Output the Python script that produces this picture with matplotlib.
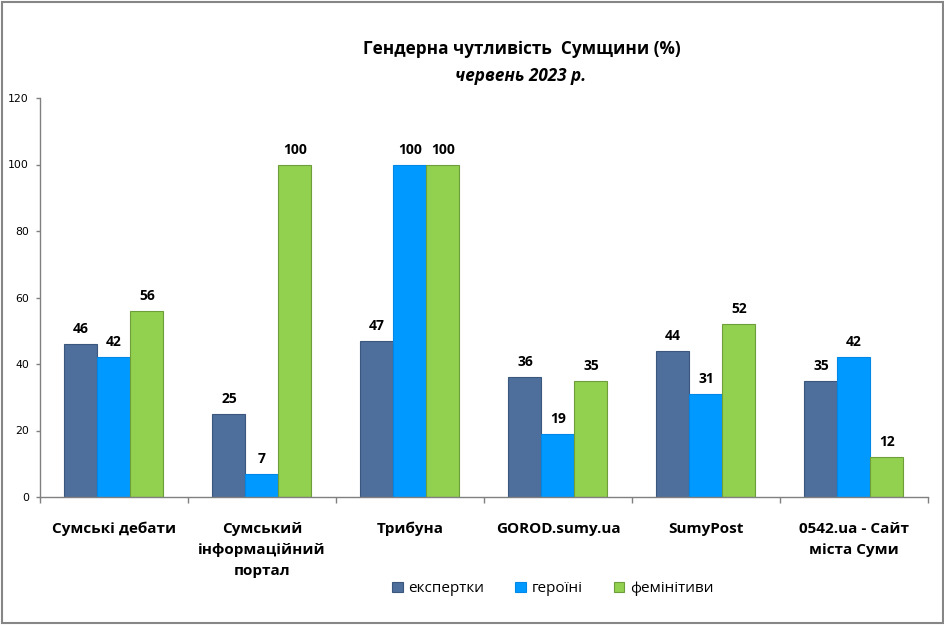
import matplotlib
matplotlib.use("Agg")
import matplotlib.pyplot as plt
import numpy as np
from matplotlib.patches import Rectangle

plt.rcParams['font.family'] = ['Open Sans', 'DejaVu Sans']

categories = ["Сумські дебати", "Сумський\nінформаційний\nпортал", "Трибуна",
              "GOROD.sumy.ua", "SumyPost", "0542.ua - Сайт\nміста Суми"]
series_names = ["експертки", "героїні", "фемінітиви"]
ekspertky = [46, 25, 47, 36, 44, 35]
heroini = [42, 7, 100, 19, 31, 42]
feminityvy = [56, 100, 100, 35, 52, 12]
yticks = [0, 20, 40, 60, 80, 100, 120]

colors = ["#4E6F9B", "#0099FF", "#92D050"]
edges = ["#3B577D", "#0088E8", "#6E9E3A"]

fig = plt.figure(figsize=(9.45, 6.25), dpi=100)
ax = fig.add_axes([0.0423, 0.2048, 0.9397, 0.6384])

x = np.arange(len(categories))
w = 0.223
for i, (vals, c, e, name) in enumerate(zip([ekspertky, heroini, feminityvy], colors, edges, series_names)):
    pos = x + (i - 1) * w
    ax.bar(pos, vals, width=w, color=c, edgecolor=e, linewidth=0.8, label=name, zorder=2)
    for p, v in zip(pos, vals):
        ax.text(p, v + 2.4, str(v), ha='center', va='bottom', fontsize=10, fontweight='bold')

ax.set_xlim(-0.5, len(categories) - 0.5)
ax.set_ylim(0, 120)
ax.set_yticks(yticks)
ax.set_yticklabels([str(t) for t in yticks], fontsize=7.8, family='DejaVu Sans')
ax.set_xticks(np.arange(len(categories) + 1) - 0.5)
ax.set_xticklabels([])
ax.tick_params(axis='x', length=4, color='#808080', width=1)
ax.tick_params(axis='y', length=3, color='#808080', width=1, pad=5)
for s in ['top', 'right']:
    ax.spines[s].set_visible(False)
for s in ['left', 'bottom']:
    ax.spines[s].set_color('#808080')
    ax.spines[s].set_linewidth(1)

for xi, lab in zip(x, categories):
    ax.text(xi, -7.5, lab, ha='center', va='top', fontsize=11, fontweight='bold',
            transform=ax.transData, linespacing=1.65)

fig.text(0.552, 0.9216, "Гендерна чутливість  Сумщини (%)", ha='center', va='center',
         fontsize=12.3, fontweight='bold')
fig.text(0.551, 0.8784, "червень 2023 р.", ha='center', va='center',
         fontsize=12.3, fontweight='bold', style='italic')

fig.legend(loc='center', bbox_to_anchor=(0.585, 0.058), ncol=3, frameon=False,
           fontsize=11, handlelength=0.7, handleheight=0.7, handletextpad=0.4,
           columnspacing=2.0)

fig.patches.append(Rectangle((0.002, 0.003), 0.996, 0.994, transform=fig.transFigure,
                             fill=False, edgecolor='#868686', linewidth=1.5))

fig.savefig("out.png", dpi=100)
